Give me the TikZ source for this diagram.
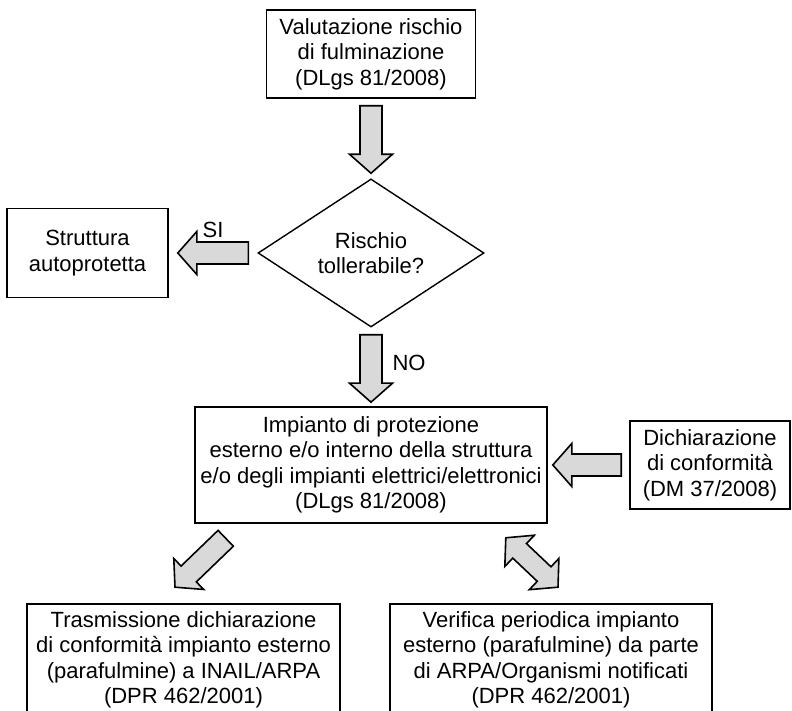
\documentclass[tikz,border=0pt]{standalone}
\usepackage{xcolor}
\usepackage{fontspec}
\setmainfont{Liberation Sans}
\usepackage{tikz}
\usetikzlibrary{positioning}
\usetikzlibrary{shapes.geometric, calc}
\tikzstyle{process} = [rectangle, draw=black, line width=1.6pt, inner sep=0pt, align=center]
\tikzstyle{decision} = [diamond, draw=black, line width=1.4pt, inner sep=0pt, align=center, minimum width=226pt, minimum height=146pt]
\tikzstyle{fatarrow} = [draw=black, fill=gray!30, line width=1.6pt, line join=miter, to path={
    let \p1=(\tikztostart), \p2=(\tikztotarget),
        \n1={atan2(\y2-\y1,\x2-\x1)}, \n2={veclen(\x2-\x1,\y2-\y1)-19} in
    ($(\p1)+(\n1+90:11pt)$) -- ($(\p1)+(\n1:\n2)+(\n1+90:11pt)$)
    -- ($(\p1)+(\n1:\n2)+(\n1+90:21.5pt)$) -- (\p2)
    -- ($(\p1)+(\n1:\n2)+(\n1-90:21.5pt)$) -- ($(\p1)+(\n1:\n2)+(\n1-90:11pt)$)
    -- ($(\p1)+(\n1-90:11pt)$) -- cycle}]
\tikzstyle{fatdarrow} = [draw=black, fill=gray!30, line width=1.6pt, line join=miter, to path={
    let \p1=(\tikztostart), \p2=(\tikztotarget),
        \n1={atan2(\y2-\y1,\x2-\x1)}, \n2={veclen(\x2-\x1,\y2-\y1)-19} in
    (\p1) -- ($(\p1)+(\n1:19)+(\n1+90:21.5pt)$) -- ($(\p1)+(\n1:19)+(\n1+90:10pt)$)
    -- ($(\p1)+(\n1:\n2)+(\n1+90:10pt)$) -- ($(\p1)+(\n1:\n2)+(\n1+90:21.5pt)$) -- (\p2)
    -- ($(\p1)+(\n1:\n2)+(\n1-90:21.5pt)$) -- ($(\p1)+(\n1:\n2)+(\n1-90:10pt)$)
    -- ($(\p1)+(\n1:19)+(\n1-90:10pt)$) -- ($(\p1)+(\n1:19)+(\n1-90:21.5pt)$) -- cycle}]

\begin{document}
\begin{tikzpicture}[on grid, x=1pt, y=1pt, font=\fontsize{22}{25.5}\selectfont]
    \useasboundingbox (0,0) rectangle (792,711);
    \clip (0,0) rectangle (792,711);
    \node(valut)[process, minimum width=209pt, minimum height=88pt] at (371,657) {Valutazione rischio\\di fulminazione\\(DLgs 81/2008)};
    \node(rischio)[decision, node distance=199pt, below of=valut] {Rischio\\tollerabile?};
    \node(autoprot)[process, node distance=283.5pt, left of=rischio, minimum width=161pt, minimum height=89pt] {Struttura\\autoprotetta};
    \node(impianto)[process, node distance=212pt, below of=rischio, minimum width=352pt, minimum height=116pt] {Impianto di protezione\\esterno e/o interno della struttura\\e/o degli impianti elettrici/elettronici\\(DLgs 81/2008)};
    \node(dichiar)[process, node distance=339pt, right of=impianto, minimum width=160pt, minimum height=88pt] {Dichiarazione\\di conformità\\(DM 37/2008)};
    \node(trasm)[process, below left=195pt and 187.5pt of impianto, minimum width=313pt, minimum height=112pt] {Trasmissione dichiarazione\\di conformità impianto esterno\\(parafulmine) a INAIL/ARPA\\(DPR 462/2001)};
    \node(verifica)[process, below right=195pt and 180pt of impianto, minimum width=322pt, minimum height=112pt] {Verifica periodica impianto\\esterno (parafulmine) da parte\\di ARPA/Organismi notificati\\(DPR 462/2001)};
    \draw[fatarrow]([yshift=-7pt]valut.south) to ([yshift=5pt]rischio.north);
    \draw[fatarrow]([xshift=-9pt]rischio.west) to ([xshift=9pt]autoprot.east);
    \node(si)[above=12pt] at ($(rischio.west)!0.5!(autoprot.east)$) {SI};
    \draw[fatarrow]([yshift=-7pt]rischio.south) to ([yshift=4pt]impianto.north);
    \node(no)[right=18pt] at ($(rischio.south)!0.45!(impianto.north)$) {NO};
    \draw[fatarrow]([xshift=-8pt]dichiar.west) to ([xshift=5pt]impianto.east);
    \draw[fatarrow]([shift={(31.5pt,-14.5pt)}]impianto.south west) to ([shift={(-8.5pt,16pt)}]trasm.north);
    \draw[fatdarrow]([shift={(-42pt,-14pt)}]impianto.south east) to ([shift={(7pt,16pt)}]verifica.north);
\end{tikzpicture}
\end{document}
